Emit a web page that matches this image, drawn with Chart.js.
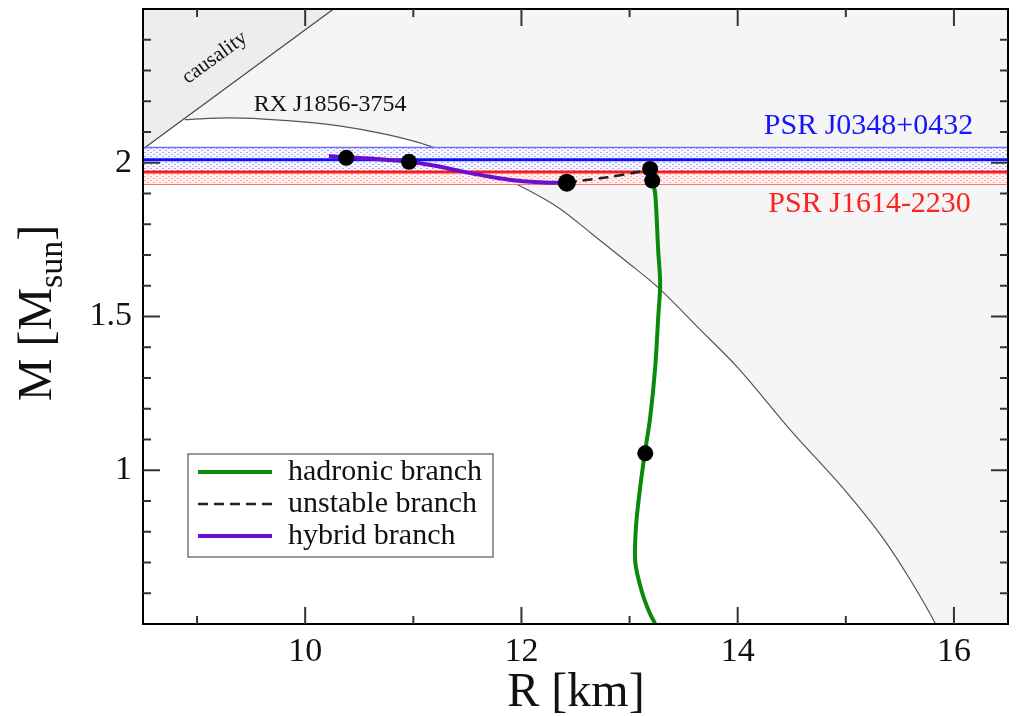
<!DOCTYPE html>
<html>
<head>
<meta charset="utf-8">
<script src="https://cdn.jsdelivr.net/npm/chart.js@4/dist/chart.umd.min.js"></script>
<style>
  html, body { margin: 0; padding: 0; background: #fff; }
</style>
</head>
<body>
<canvas id="mr" width="1017" height="716"></canvas>
<script>

// Data {

    // hadronic branch (R km, M Msun)
    const hadronicR = [13.21, 13.237, 13.265, 13.283, 13.265, 13.237, 13.191, 13.145, 13.10, 13.06, 13.053, 13.11, 13.175, 13.237];
    const hadronicM = [1.942, 1.90, 1.714, 1.607, 1.497, 1.334, 1.172, 1.065, 0.95, 0.82, 0.70, 0.61, 0.545, 0.50];

    // unstable branch
    const unstableR = [12.42, 12.56, 12.80, 13.05, 13.19];
    const unstableM = [1.935, 1.942, 1.953, 1.968, 1.98];

    // hybrid branch
    const hybridR = [10.22, 10.38, 10.60, 10.96, 11.20, 11.45, 11.70, 11.95, 12.25, 12.42];
    const hybridM = [2.022, 2.018, 2.014, 2.003, 1.99, 1.972, 1.955, 1.942, 1.935, 1.935];

    // marked configurations
    const dotR = [10.38, 10.96, 12.42, 13.19, 13.21, 13.145];
    const dotM = [2.016, 2.003, 1.935, 1.98, 1.942, 1.055];
    const dotSize = [8, 8, 9, 8, 8, 8];

    // RX J1856-3754 constraint curve (last point only closes the shaded area below the axis)
    const rxR = [8.887, 9.3, 9.8, 10.316, 10.75, 11.145, 11.55, 11.947, 12.343, 12.647, 12.96, 13.265, 13.634, 14.0, 14.49, 15.016, 15.357, 15.597, 15.83, 16.5];
    const rxM = [2.14, 2.146, 2.138, 2.12, 2.092, 2.055, 1.996, 1.932, 1.854, 1.77, 1.682, 1.594, 1.464, 1.334, 1.13, 0.925, 0.773, 0.643, 0.50, 0.0];

    // causality limit
    const causR = [8.5, 10.32, 10.5];
    const causM = [2.045, 2.515, 2.56];

    // pulsar mass bands
    const bandR = [8.5, 16.5];
    const j0348 = [2.05, 2.01, 1.97];   // hi, mid, lo
    const j1614 = [2.01, 1.97, 1.93];

    // ticks
    const xMin = 8.5, xMax = 16.5;
    const yMin = 0.5, yMax = 2.5;
    const xLabels = [10, 12, 14, 16];
    const yLabels = [1, 1.5, 2];

// };

// Helpers {

    const pts = (xs, ys) => xs.map((x, i) => ({ x: x, y: ys[i] }));
    const flat = (v) => bandR.map(x => ({ x: x, y: v }));
    const serif = '"Liberation Serif", "DejaVu Serif", serif';

    function dotPattern(bg, dot) {
        const c = document.createElement('canvas');
        c.width = 6; c.height = 4;
        const g = c.getContext('2d');
        g.fillStyle = bg; g.fillRect(0, 0, 6, 4);
        g.fillStyle = dot;
        g.fillRect(0, 0, 2, 1);
        g.fillRect(3, 2, 2, 1);
        return g.createPattern(c, 'repeat');
    }

    const blueFill = dotPattern('#f7f7ff', '#a9a9ff');
    const redFill = dotPattern('#fff0f0', '#ffa8a8');

// };

// Datasets {

    const line = (label, data, color, width, extra) => Object.assign({
        label: label, data: data, borderColor: color, borderWidth: width,
        showLine: true, pointRadius: 0, fill: false, tension: 0
    }, extra || {});

    const datasets = [
        line('dots', pts(dotR, dotM), '#000', 0, {
            showLine: false, pointRadius: dotSize, pointBackgroundColor: '#000',
            pointBorderWidth: 0, order: 0
        }),
        line('hybrid branch', pts(hybridR, hybridM), '#6a0fcf', 4, { tension: 0.3, order: 1, legend: true }),
        line('unstable branch', pts(unstableR, unstableM), '#222', 2.5, { tension: 0.3, borderDash: [10, 6], order: 1, legend: true }),
        line('hadronic branch', pts(hadronicR, hadronicM), '#0a8a0a', 4, { tension: 0.3, order: 1, legend: true }),
        line('J1614 mid', flat(j1614[1]), '#ff1a1a', 3, { order: 2 }),
        line('J0348 mid', flat(j0348[1]), '#1010ff', 3, { order: 3 }),
        line('J0348 hi', flat(j0348[0]), '#7070ff', 1.5, { order: 4, fill: 7, backgroundColor: blueFill }),
        line('J0348 lo', flat(j0348[2]), '#7070ff', 1.5, { order: 4 }),
        line('J1614 hi', flat(j1614[0]), 'rgba(0,0,0,0)', 0, { order: 5, fill: 9, backgroundColor: redFill }),
        line('J1614 lo', flat(j1614[2]), '#ff5050', 1.5, { order: 5 }),
        line('causality', pts(causR, causM), '#444', 1.2, { order: 6, fill: 'end', backgroundColor: '#ededed' }),
        line('RX J1856-3754', pts(rxR, rxM), '#555', 1.2, { order: 7, fill: 'end', backgroundColor: '#f5f5f5',
            cubicInterpolationMode: 'monotone' })
    ];

// };

// Plugins {

    const decor = {
        id: 'decor',
        afterDraw(chart) {
            const g = chart.ctx, a = chart.chartArea;
            const sx = chart.scales.x, sy = chart.scales.y;
            g.save();

            // frame
            g.strokeStyle = '#000';
            g.lineWidth = 2;
            g.strokeRect(a.left, a.top, a.right - a.left, a.bottom - a.top);

            // inward ticks on all sides
            g.strokeStyle = '#333';
            g.lineWidth = 2;
            g.beginPath();
            for (let v = 9; v <= 16; v++) {
                const px = sx.getPixelForValue(v);
                const len = v % 2 === 0 ? 17 : 8;
                g.moveTo(px, a.bottom); g.lineTo(px, a.bottom - len);
                g.moveTo(px, a.top); g.lineTo(px, a.top + len);
            }
            for (let k = 6; k <= 24; k++) {
                const py = sy.getPixelForValue(k / 10);
                const len = k % 5 === 0 ? 17 : 8;
                g.moveTo(a.left, py); g.lineTo(a.left + len, py);
                g.moveTo(a.right, py); g.lineTo(a.right - len, py);
            }
            g.stroke();

            // annotations
            g.fillStyle = '#111';
            g.textAlign = 'center';
            g.textBaseline = 'middle';
            g.font = '24px ' + serif;
            g.fillText('RX J1856-3754', sx.getPixelForValue(10.23), sy.getPixelForValue(2.19));

            g.save();
            g.translate(sx.getPixelForValue(9.163), sy.getPixelForValue(2.341));
            g.rotate(-36 * Math.PI / 180);
            g.font = '21px ' + serif;
            g.fillText('causality', 0, 0);
            g.restore();

            g.font = '30px ' + serif;
            g.fillStyle = '#1515ff';
            g.fillText('PSR J0348+0432', sx.getPixelForValue(15.21), sy.getPixelForValue(2.12));
            g.fillStyle = '#ff2020';
            g.fillText('PSR J1614-2230', sx.getPixelForValue(15.22), sy.getPixelForValue(1.867));

            // legend box
            const lx = 188, ly = 454, lw = 305, lh = 103;
            g.fillStyle = '#fff';
            g.fillRect(lx, ly, lw, lh);
            g.strokeStyle = '#777';
            g.lineWidth = 1.5;
            g.strokeRect(lx, ly, lw, lh);
            const items = chart.data.datasets.filter(d => d.legend).reverse();
            g.textAlign = 'left';
            g.font = '30px ' + serif;
            items.forEach((d, i) => {
                const yy = ly + 18 + i * 32;
                g.strokeStyle = d.borderColor;
                g.lineWidth = d.borderWidth;
                g.setLineDash(d.borderDash || []);
                g.beginPath();
                g.moveTo(lx + 10, yy); g.lineTo(lx + 84, yy);
                g.stroke();
                g.setLineDash([]);
                g.fillStyle = '#111';
                g.fillText(d.label, lx + 100, yy);
            });

            // axis titles
            g.fillStyle = '#111';
            g.textAlign = 'center';
            g.textBaseline = 'alphabetic';
            g.font = '48px ' + serif;
            g.fillText('R [km]', 576, 706);

            g.save();
            g.translate(51, 313);
            g.rotate(-Math.PI / 2);
            g.textAlign = 'left';
            const big = '48px ' + serif, small = '34px ' + serif;
            g.font = big; const w1 = g.measureText('M [M').width;
            g.font = small; const w2 = g.measureText('sun').width;
            g.font = big; const w3 = g.measureText(']').width;
            let x0 = -(w1 + w2 + w3) / 2;
            g.font = big; g.fillText('M [M', x0, 0);
            g.font = small; g.fillText('sun', x0 + w1, 11);
            g.font = big; g.fillText(']', x0 + w1 + w2, 0);
            g.restore();

            g.restore();
        }
    };

    const noPad = s => { s.paddingTop = 0; s.paddingBottom = 0; s.paddingLeft = 0; s.paddingRight = 0; };

// };

// Chart {

    new Chart(document.getElementById('mr').getContext('2d'), {
        type: 'scatter',
        data: { datasets: datasets },
        plugins: [decor],
        options: {
            responsive: false,
            animation: false,
            events: [],
            layout: { padding: { top: 9, right: 6, left: 0, bottom: 0 } },
            plugins: { legend: { display: false }, tooltip: { enabled: false } },
            scales: {
                x: {
                    type: 'linear', min: xMin, max: xMax,
                    grid: { display: false, drawTicks: false },
                    border: { display: false },
                    afterBuildTicks: s => { s.ticks = xLabels.map(v => ({ value: v })); },
                    ticks: { color: '#111', font: { family: serif, size: 34 }, padding: 8, maxRotation: 0,
                             callback: v => String(v) },
                    afterFit: s => { s.height = 92; noPad(s); }
                },
                y: {
                    type: 'linear', min: yMin, max: yMax,
                    grid: { display: false, drawTicks: false },
                    border: { display: false },
                    afterBuildTicks: s => { s.ticks = yLabels.map(v => ({ value: v })); },
                    ticks: { color: '#111', font: { family: serif, size: 34 }, padding: 11,
                             callback: v => String(v) },
                    afterFit: s => { s.width = 143; noPad(s); }
                }
            }
        }
    });

// };

</script>
</body>
</html>
